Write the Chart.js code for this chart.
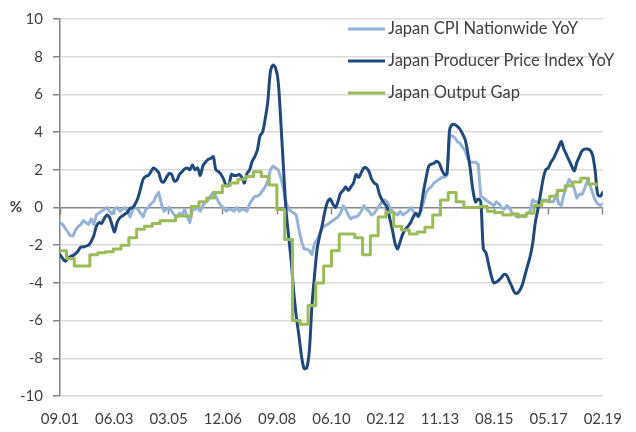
<!DOCTYPE html>
<html>
<head>
<meta charset="utf-8">
<script src="https://cdn.jsdelivr.net/npm/chart.js@4.4.1/dist/chart.umd.min.js"></script>
<style>
  html, body { margin: 0; padding: 0; background: #fff; }
  #wrap { width: 636px; height: 432px; }
</style>
</head>
<body>
<div id="wrap"><canvas id="chart" width="636" height="432"></canvas></div>
<script>
// monthly data, Sep 2001 (index 0) .. Feb 2019 (index 209)
const xTickLabels = ['09.01', '06.03', '03.05', '12.06', '09.08', '06.10', '02.12', '11.13', '08.15', '05.17', '02.19']
const seriesNames = ['Japan CPI Nationwide YoY', 'Japan Producer Price Index YoY', 'Japan Output Gap']

const cpiValues = [
  -0.8, -0.9, -1.1, -1.3, -1.5, -1.5, -1.2, -1.0, -0.9, -0.7, -0.8, -0.9,
  -0.6, -0.9, -0.4, -0.3, -0.2, -0.1, 0.0, -0.2, -0.35, -0.1, 0.0, -0.2,
  -0.1, 0.0, -0.2, -0.5, -0.1, 0.0, -0.1, -0.3, -0.5, -0.1, 0.0, 0.2,
  0.3, 0.6, 0.8, 0.2, -0.2, -0.1, 0.0, -0.2, -0.4, -0.5, -0.3, -0.4,
  -0.1, -0.5, -0.8, -0.1, -0.1, 0.0, -0.2, 0.1, 0.3, 0.4, 0.6, 0.8,
  0.6, 0.3, 0.1, 0.0, -0.2, -0.1, -0.1, -0.2, 0.0, -0.2, -0.1, -0.1,
  -0.2, 0.2, 0.4, 0.6, 0.6, 0.7, 0.9, 1.1, 1.4, 2.0, 2.2, 2.1,
  2.0, 1.6, 1.0, 0.3, -0.1, -0.2, -0.3, -0.4, -1.2, -1.8, -2.2, -2.2,
  -2.3, -2.5, -1.9, -1.7, -1.4, -1.1, -0.95, -0.9, -0.8, -0.7, -0.6, -0.5,
  -0.3, 0.1, -0.1, -0.4, -0.6, -0.5, -0.5, -0.4, -0.2, 0.1, -0.1, -0.2,
  -0.4, -0.3, -0.1, 0.1, 0.3, 0.4, 0.3, 0.0, -0.2, -0.3, -0.4, -0.2,
  -0.4, -0.3, -0.2, 0.0, -0.2, -0.4, -0.5, -0.2, 0.3, 0.8, 1.0, 1.1,
  1.3, 1.4, 1.5, 1.6, 1.6, 1.7, 3.8, 3.8, 3.7, 3.5, 3.4, 3.2,
  3.0, 2.6, 2.4, 2.4, 2.4, 2.3, 0.6, 0.5, 0.4, 0.3, 0.2, 0.1,
  0.3, 0.2, 0.0, -0.1, 0.1, 0.0, -0.3, -0.4, -0.5, -0.5, -0.4, -0.5,
  -0.3, -0.2, 0.4, 0.3, 0.3, 0.3, 0.4, 0.4, 0.3, 0.3, 0.3, 0.7,
  0.2, 0.1, 0.7, 1.1, 1.5, 1.3, 1.0, 0.5, 0.7, 0.7, 1.0, 1.4,
  1.2, 0.8, 0.4, 0.2, 0.1, 0.2
]

const ppiValues = [
  -2.5, -2.7, -2.85, -2.7, -2.6, -2.55, -2.45, -2.3, -2.1, -2.1, -2.05, -2.0,
  -1.8, -1.5, -1.0, -0.8, -0.85, -0.6, -0.4, -0.5, -0.9, -1.3, -0.8, -0.55,
  -0.45, -0.35, -0.25, -0.05, 0.0, 0.2, 0.5, 1.0, 1.5, 1.65, 1.7, 1.9,
  2.1, 2.0, 1.85, 1.4, 1.35, 1.6, 1.8, 1.75, 1.4, 1.45, 1.75, 1.9,
  2.05, 2.1, 2.0, 2.25, 2.0, 2.1, 1.7, 2.2, 2.4, 2.55, 2.6, 2.7,
  2.0, 1.9, 1.75, 1.5, 1.15, 1.2, 1.75, 1.7, 1.7, 1.75, 1.6, 1.3,
  1.8, 2.0, 2.45, 2.7, 3.05, 3.8, 4.0, 4.7, 5.6, 7.2, 7.55, 7.4,
  6.7, 4.6, 2.2, -0.1, -1.5, -2.8, -4.5, -5.8, -6.8, -7.9, -8.55, -8.5,
  -7.6, -5.2, -3.6, -2.2, -1.5, -0.9, -0.2, 0.3, 0.45, 0.2, 0.0, 0.3,
  0.75, 0.9, 1.1, 0.9, 1.1, 1.3, 1.75, 1.6, 1.85, 2.1, 2.1, 1.9,
  1.5, 1.3, 1.2, 0.7, 0.4, 0.2, 0.0, -0.6, -1.2, -1.9, -2.2, -1.8,
  -1.4, -1.15, -1.0, -0.8, -0.5, -0.3, -0.45, 0.0, 0.9, 1.6, 2.2, 2.3,
  2.35, 2.45, 2.35, 2.0, 1.75, 1.8, 4.1, 4.4, 4.4, 4.3, 4.15, 3.9,
  3.6, 2.9, 2.0, 0.9, 0.3, 0.45, 0.3, -2.2, -2.4, -3.0, -3.6, -4.0,
  -3.95, -3.85, -3.7, -3.55, -3.6, -3.9, -4.2, -4.5, -4.55, -4.4, -4.1, -3.6,
  -3.1, -2.6, -1.9, -0.8, -0.1, 0.7, 1.5, 2.0, 2.1, 2.4, 2.6, 2.9,
  3.2, 3.5, 3.1, 2.8, 2.5, 2.2, 1.95, 2.4, 2.7, 3.0, 3.1, 3.1,
  3.05, 2.8, 2.0, 0.7, 0.6, 0.8
]

// quarterly, one value per quarter starting Q3 2001
const gapValues = [
  -2.3, -2.7, -3.1, -3.1, -2.5, -2.4, -2.35, -2.2, -2.0, -1.6,
  -1.15, -1.0, -0.85, -0.7, -0.7, -0.45, -0.45, 0.05, 0.3, 0.5,
  0.8, 1.15, 1.3, 1.5, 1.65, 1.9, 1.65, 1.2, -0.1, -1.7,
  -6.0, -6.2, -5.2, -4.0, -3.1, -2.3, -1.4, -1.4, -1.6, -2.5,
  -1.5, -0.5, -0.25, -1.0, -1.2, -1.4, -1.3, -1.05, -0.4, 0.4,
  0.8, 0.3, 0.0, 0.0, 0.05, -0.2, -0.26, -0.4, -0.35, -0.47,
  -0.3, 0.1, 0.35, 0.6, 0.9, 1.15, 1.35, 1.55, 1.25, 1.2
]

const COLORS = {
  cpi: '#95B3D7',
  ppi: '#1F497D',
  gap: '#9BBB59',
  axis: '#868686',
  grid: '#DADADA',
  text: '#404040'
}
const FONT = 'Lato'

const lastMonth = cpiValues.length - 1
const xStep = lastMonth / (xTickLabels.length - 1)

const monthPoints = (values) => values.map((v, i) => ({ x: i, y: v }))
const quarterPoints = (values) => values.map((v, q) => ({ x: Math.max(0, q * 3 - 0.5), y: v }))

// legend sits inside the plot, top right, and the % unit left of the zero line
const insideLegend = {
  id: 'insideLegend',
  afterDatasetsDraw(chart) {
    const { ctx, chartArea } = chart
    const x0 = chartArea.left + 288
    ctx.save()
    ctx.font = '16.5px ' + FONT
    ctx.textBaseline = 'middle'
    chart.data.datasets.forEach((ds, i) => {
      const y = chartArea.top + 10 + i * 32
      ctx.strokeStyle = ds.borderColor
      ctx.lineWidth = 3
      ctx.beginPath()
      ctx.moveTo(x0, y)
      ctx.lineTo(x0 + 37, y)
      ctx.stroke()
      ctx.fillStyle = COLORS.text
      ctx.fillText(ds.label, x0 + 40, y)
    })
    const yZero = chart.scales.y.getPixelForValue(0)
    ctx.font = 'bold 15px ' + FONT
    ctx.textAlign = 'center'
    ctx.fillText('%', 16, yZero)
    ctx.restore()
  }
}

const data = {
  datasets: [
    {
      label: seriesNames[0],
      data: monthPoints(cpiValues),
      borderColor: COLORS.cpi,
      borderWidth: 3,
      tension: 0,
      order: 3
    },
    {
      label: seriesNames[1],
      data: monthPoints(ppiValues),
      borderColor: COLORS.ppi,
      borderWidth: 3,
      tension: 0.3,
      order: 2
    },
    {
      label: seriesNames[2],
      data: quarterPoints(gapValues),
      borderColor: COLORS.gap,
      borderWidth: 3,
      stepped: true,
      order: 1
    }
  ]
}

const config = {
  type: 'line',
  data: data,
  options: {
    responsive: false,
    animation: false,
    devicePixelRatio: 1,
    layout: { padding: { left: 0, right: 20, top: 16, bottom: 0 } },
    elements: {
      point: { radius: 0 },
      line: { borderJoinStyle: 'round', borderCapStyle: 'round', fill: false }
    },
    plugins: {
      legend: { display: false },
      tooltip: { enabled: false }
    },
    scales: {
      x: {
        type: 'linear',
        min: 0,
        max: lastMonth,
        ticks: {
          stepSize: xStep,
          autoSkip: false,
          maxRotation: 0,
          color: COLORS.text,
          font: { family: FONT, size: 15 },
          padding: 14,
          callback: (value, index) => xTickLabels[index] ?? ''
        },
        grid: { display: false, drawTicks: false },
        border: { display: false },
        afterFit: (scale) => { scale.height = 36 }
      },
      // zero line with its small tick marks, labels are on the bottom axis
      x2: {
        type: 'linear',
        min: 0,
        max: lastMonth,
        position: { y: 0 },
        ticks: { display: true, stepSize: xStep, color: 'rgba(0,0,0,0)', autoSkip: false, maxRotation: 0 },
        grid: { display: true, drawOnChartArea: false, drawTicks: true, tickLength: 6, tickColor: COLORS.axis, tickWidth: 1.5 },
        border: { display: true, color: COLORS.axis, width: 1.5 }
      },
      y: {
        min: -10,
        max: 10,
        ticks: {
          stepSize: 2,
          color: COLORS.text,
          font: { family: FONT, size: 15 },
          padding: 10
        },
        grid: {
          color: (c) => c.tick && c.tick.value === 0 ? 'rgba(0,0,0,0)' : COLORS.grid,
          lineWidth: 1.5,
          tickLength: 7,
          tickColor: COLORS.axis,
          tickWidth: 1.5
        },
        border: { display: true, color: COLORS.axis, width: 1.5 },
        afterFit: (scale) => { scale.width = 60 }
      }
    }
  },
  plugins: [insideLegend]
}

const chart = new Chart(document.getElementById('chart'), config)
</script>
</body>
</html>
